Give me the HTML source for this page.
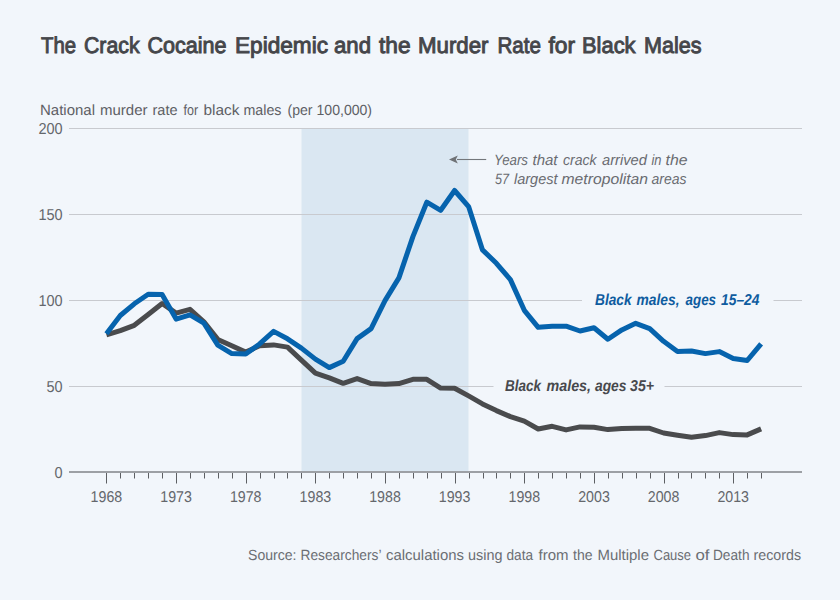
<!DOCTYPE html>
<html><head><meta charset="utf-8"><style>
html,body{margin:0;padding:0;background:#f2f6fb;}
svg{display:block;}
text{font-family:"Liberation Sans",sans-serif;text-rendering:geometricPrecision;}
</style></head><body>
<svg width="840" height="600" viewBox="0 0 840 600">
<rect width="840" height="600" fill="#f2f6fb"/>
<text x="41.00" y="52.7" font-size="22.7" fill="#45464a" stroke="#45464a" stroke-width="0.95" textLength="35.07" lengthAdjust="spacingAndGlyphs">The</text><text x="84.00" y="52.7" font-size="22.7" fill="#45464a" stroke="#45464a" stroke-width="0.95" textLength="55.57" lengthAdjust="spacingAndGlyphs">Crack</text><text x="147.50" y="52.7" font-size="22.7" fill="#45464a" stroke="#45464a" stroke-width="0.95" textLength="79.01" lengthAdjust="spacingAndGlyphs">Cocaine</text><text x="235.00" y="52.7" font-size="22.7" fill="#45464a" stroke="#45464a" stroke-width="0.95" textLength="93.01" lengthAdjust="spacingAndGlyphs">Epidemic</text><text x="334.00" y="52.7" font-size="22.7" fill="#45464a" stroke="#45464a" stroke-width="0.95" textLength="37.02" lengthAdjust="spacingAndGlyphs">and</text><text x="379.00" y="52.7" font-size="22.7" fill="#45464a" stroke="#45464a" stroke-width="0.95" textLength="31.55" lengthAdjust="spacingAndGlyphs">the</text><text x="418.00" y="52.7" font-size="22.7" fill="#45464a" stroke="#45464a" stroke-width="0.95" textLength="70.51" lengthAdjust="spacingAndGlyphs">Murder</text><text x="497.50" y="52.7" font-size="22.7" fill="#45464a" stroke="#45464a" stroke-width="0.95" textLength="43.51" lengthAdjust="spacingAndGlyphs">Rate</text><text x="548.50" y="52.7" font-size="22.7" fill="#45464a" stroke="#45464a" stroke-width="0.95" textLength="26.62" lengthAdjust="spacingAndGlyphs">for</text><text x="582.00" y="52.7" font-size="22.7" fill="#45464a" stroke="#45464a" stroke-width="0.95" textLength="53.54" lengthAdjust="spacingAndGlyphs">Black</text><text x="644.00" y="52.7" font-size="22.7" fill="#45464a" stroke="#45464a" stroke-width="0.95" textLength="57.51" lengthAdjust="spacingAndGlyphs">Males</text>
<text x="40.00" y="114.6" font-size="14.8" fill="#5e6065" textLength="55.01" lengthAdjust="spacingAndGlyphs">National</text><text x="100.00" y="114.6" font-size="14.8" fill="#5e6065" textLength="47.50" lengthAdjust="spacingAndGlyphs">murder</text><text x="152.50" y="114.6" font-size="14.8" fill="#5e6065" textLength="25.00" lengthAdjust="spacingAndGlyphs">rate</text><text x="183.50" y="114.6" font-size="14.8" fill="#5e6065" textLength="14.61" lengthAdjust="spacingAndGlyphs">for</text><text x="203.50" y="114.6" font-size="14.8" fill="#5e6065" textLength="36.02" lengthAdjust="spacingAndGlyphs">black</text><text x="243.50" y="114.6" font-size="14.8" fill="#5e6065" textLength="38.00" lengthAdjust="spacingAndGlyphs">males</text><text x="287.50" y="114.6" font-size="14.8" fill="#5e6065" textLength="25.05" lengthAdjust="spacingAndGlyphs">(per</text><text x="316.50" y="114.6" font-size="14.8" fill="#5e6065" textLength="55.54" lengthAdjust="spacingAndGlyphs">100,000)</text>
<rect x="301.5" y="128" width="167" height="344" fill="#dae7f2"/>
<g stroke="#c8cacf" stroke-width="1">
<line x1="69" y1="128.5" x2="802" y2="128.5"/>
<line x1="69" y1="214.5" x2="802" y2="214.5"/>
<line x1="69" y1="300.5" x2="582" y2="300.5"/>
<line x1="773.5" y1="300.5" x2="802" y2="300.5"/>
<line x1="69" y1="386.5" x2="493.5" y2="386.5"/>
<line x1="664.5" y1="386.5" x2="802" y2="386.5"/>
</g>
<g font-size="15.8" fill="#64676c" text-anchor="end">
<text x="62.6" y="134" textLength="24.2" lengthAdjust="spacingAndGlyphs">200</text>
<text x="62.6" y="220" textLength="24.2" lengthAdjust="spacingAndGlyphs">150</text>
<text x="62.6" y="306" textLength="24.2" lengthAdjust="spacingAndGlyphs">100</text>
<text x="62.6" y="392" textLength="16.1" lengthAdjust="spacingAndGlyphs">50</text>
<text x="62.6" y="478" textLength="8.1" lengthAdjust="spacingAndGlyphs">0</text>
</g>
<g stroke="#5d5f63" stroke-width="1">
<line x1="106.5" y1="472" x2="106.5" y2="483.5"/><line x1="120.5" y1="472" x2="120.5" y2="478.5"/><line x1="134.5" y1="472" x2="134.5" y2="478.5"/><line x1="148.5" y1="472" x2="148.5" y2="478.5"/><line x1="162.5" y1="472" x2="162.5" y2="478.5"/><line x1="176.5" y1="472" x2="176.5" y2="483.5"/><line x1="190.5" y1="472" x2="190.5" y2="478.5"/><line x1="204.5" y1="472" x2="204.5" y2="478.5"/><line x1="218.5" y1="472" x2="218.5" y2="478.5"/><line x1="232.5" y1="472" x2="232.5" y2="478.5"/><line x1="246.5" y1="472" x2="246.5" y2="483.5"/><line x1="260.5" y1="472" x2="260.5" y2="478.5"/><line x1="274.5" y1="472" x2="274.5" y2="478.5"/><line x1="287.5" y1="472" x2="287.5" y2="478.5"/><line x1="301.5" y1="472" x2="301.5" y2="478.5"/><line x1="315.5" y1="472" x2="315.5" y2="483.5"/><line x1="329.5" y1="472" x2="329.5" y2="478.5"/><line x1="343.5" y1="472" x2="343.5" y2="478.5"/><line x1="357.5" y1="472" x2="357.5" y2="478.5"/><line x1="371.5" y1="472" x2="371.5" y2="478.5"/><line x1="385.5" y1="472" x2="385.5" y2="483.5"/><line x1="399.5" y1="472" x2="399.5" y2="478.5"/><line x1="413.5" y1="472" x2="413.5" y2="478.5"/><line x1="427.5" y1="472" x2="427.5" y2="478.5"/><line x1="441.5" y1="472" x2="441.5" y2="478.5"/><line x1="455.5" y1="472" x2="455.5" y2="483.5"/><line x1="469.5" y1="472" x2="469.5" y2="478.5"/><line x1="483.5" y1="472" x2="483.5" y2="478.5"/><line x1="496.5" y1="472" x2="496.5" y2="478.5"/><line x1="510.5" y1="472" x2="510.5" y2="478.5"/><line x1="524.5" y1="472" x2="524.5" y2="483.5"/><line x1="538.5" y1="472" x2="538.5" y2="478.5"/><line x1="552.5" y1="472" x2="552.5" y2="478.5"/><line x1="566.5" y1="472" x2="566.5" y2="478.5"/><line x1="580.5" y1="472" x2="580.5" y2="478.5"/><line x1="594.5" y1="472" x2="594.5" y2="483.5"/><line x1="608.5" y1="472" x2="608.5" y2="478.5"/><line x1="622.5" y1="472" x2="622.5" y2="478.5"/><line x1="636.5" y1="472" x2="636.5" y2="478.5"/><line x1="650.5" y1="472" x2="650.5" y2="478.5"/><line x1="664.5" y1="472" x2="664.5" y2="483.5"/><line x1="678.5" y1="472" x2="678.5" y2="478.5"/><line x1="691.5" y1="472" x2="691.5" y2="478.5"/><line x1="705.5" y1="472" x2="705.5" y2="478.5"/><line x1="719.5" y1="472" x2="719.5" y2="478.5"/><line x1="733.5" y1="472" x2="733.5" y2="483.5"/><line x1="747.5" y1="472" x2="747.5" y2="478.5"/><line x1="761.5" y1="472" x2="761.5" y2="478.5"/>
</g>
<line x1="69" y1="472" x2="802" y2="472" stroke="#9da0a5" stroke-width="2"/>
<g font-size="15.6" fill="#64676c" text-anchor="middle">
<text x="106.4" y="502" textLength="31.6" lengthAdjust="spacingAndGlyphs">1968</text><text x="176.1" y="502" textLength="31.6" lengthAdjust="spacingAndGlyphs">1973</text><text x="245.7" y="502" textLength="31.6" lengthAdjust="spacingAndGlyphs">1978</text><text x="315.4" y="502" textLength="31.6" lengthAdjust="spacingAndGlyphs">1983</text><text x="385.0" y="502" textLength="31.6" lengthAdjust="spacingAndGlyphs">1988</text><text x="454.6" y="502" textLength="31.6" lengthAdjust="spacingAndGlyphs">1993</text><text x="524.3" y="502" textLength="31.6" lengthAdjust="spacingAndGlyphs">1998</text><text x="594.0" y="502" textLength="31.6" lengthAdjust="spacingAndGlyphs">2003</text><text x="663.6" y="502" textLength="31.6" lengthAdjust="spacingAndGlyphs">2008</text><text x="733.2" y="502" textLength="31.6" lengthAdjust="spacingAndGlyphs">2013</text>
</g>
<polyline points="106.4,334.9 120.3,330.6 134.3,325.3 148.2,314.5 162.1,303.5 176.1,313.1 190.0,309.3 203.9,321.9 217.8,339.4 231.8,345.8 245.7,352.1 259.6,345.8 273.6,344.9 287.5,347.1 301.4,360.1 315.4,373.1 329.3,377.9 343.2,383.3 357.1,378.6 371.1,383.6 385.0,384.2 398.9,383.6 412.9,379.3 426.8,379.3 440.7,388.1 454.6,388.2 468.6,395.9 482.5,403.9 496.4,410.6 510.4,416.6 524.3,421.1 538.2,429.0 552.2,426.3 566.1,429.9 580.0,426.9 594.0,427.3 607.9,429.6 621.8,428.4 635.7,428.3 649.7,428.3 663.6,433.0 677.5,435.3 691.5,437.3 705.4,435.6 719.3,432.6 733.2,434.6 747.2,434.9 761.1,428.9" fill="none" stroke="#4a4b4d" stroke-width="5" stroke-linejoin="round"/>
<polyline points="106.4,333.8 120.3,315.5 134.3,303.8 148.2,294.3 162.1,294.4 176.1,319.1 190.0,314.9 203.9,323.1 217.8,345.1 231.8,353.6 245.7,354.1 259.6,343.9 273.6,331.4 287.5,338.8 301.4,348.1 315.4,359.1 329.3,367.6 343.2,361.3 357.1,338.6 371.1,328.6 385.0,300.6 398.9,277.9 412.9,236.6 426.8,202.2 440.7,210.3 454.6,190.5 468.6,206.6 482.5,249.9 496.4,263.3 510.4,279.6 524.3,310.3 538.2,327.3 552.2,326.3 566.1,326.2 580.0,331.0 594.0,327.8 607.9,339.3 621.8,329.9 635.7,323.3 649.7,328.6 663.6,341.3 677.5,351.4 691.5,351.0 705.4,353.6 719.3,351.6 733.2,358.6 747.2,360.5 761.1,343.8" fill="none" stroke="#0663ad" stroke-width="5" stroke-linejoin="round"/>
<line x1="457" y1="159.5" x2="486.2" y2="159.5" stroke="#74777b" stroke-width="1.1"/>
<path d="M449,159.5 L457.8,155.6 L455.8,159.5 L457.8,163.4 Z" fill="#6f7276"/>
<g font-size="15" font-style="italic" fill="#696b70">
<text x="494.00" y="164.6"  textLength="34.03" lengthAdjust="spacingAndGlyphs">Years</text><text x="532.50" y="164.6"  textLength="25.05" lengthAdjust="spacingAndGlyphs">that</text><text x="563.00" y="164.6"  textLength="33.55" lengthAdjust="spacingAndGlyphs">crack</text><text x="602.00" y="164.6"  textLength="45.01" lengthAdjust="spacingAndGlyphs">arrived</text><text x="651.50" y="164.6"  textLength="10.05" lengthAdjust="spacingAndGlyphs">in</text><text x="665.50" y="164.6"  textLength="22.02" lengthAdjust="spacingAndGlyphs">the</text>
<text x="495.00" y="183.7"  textLength="14.04" lengthAdjust="spacingAndGlyphs">57</text><text x="514.00" y="183.7"  textLength="43.54" lengthAdjust="spacingAndGlyphs">largest</text><text x="561.50" y="183.7"  textLength="86.50" lengthAdjust="spacingAndGlyphs">metropolitan</text><text x="651.50" y="183.7"  textLength="35.03" lengthAdjust="spacingAndGlyphs">areas</text>
</g>
<text x="595.00" y="304.8" font-size="15.8" font-weight="bold" font-style="italic" fill="#0f5c9f" textLength="36.53" lengthAdjust="spacingAndGlyphs">Black</text><text x="636.50" y="304.8" font-size="15.8" font-weight="bold" font-style="italic" fill="#0f5c9f" textLength="43.01" lengthAdjust="spacingAndGlyphs">males,</text><text x="685.50" y="304.8" font-size="15.8" font-weight="bold" font-style="italic" fill="#0f5c9f" textLength="30.53" lengthAdjust="spacingAndGlyphs">ages</text><text x="721.00" y="304.8" font-size="15.8" font-weight="bold" font-style="italic" fill="#0f5c9f" textLength="38.52" lengthAdjust="spacingAndGlyphs">15–24</text>
<text x="505.00" y="391.3" font-size="15.8" font-weight="bold" font-style="italic" fill="#48494d" textLength="36.03" lengthAdjust="spacingAndGlyphs">Black</text><text x="546.50" y="391.3" font-size="15.8" font-weight="bold" font-style="italic" fill="#48494d" textLength="44.50" lengthAdjust="spacingAndGlyphs">males,</text><text x="595.00" y="391.3" font-size="15.8" font-weight="bold" font-style="italic" fill="#48494d" textLength="31.50" lengthAdjust="spacingAndGlyphs">ages</text><text x="630.00" y="391.3" font-size="15.8" font-weight="bold" font-style="italic" fill="#48494d" textLength="24.02" lengthAdjust="spacingAndGlyphs">35+</text>
<text x="248.00" y="559.5" font-size="14.8" fill="#6b6e73" textLength="48.52" lengthAdjust="spacingAndGlyphs">Source:</text><text x="300.50" y="559.5" font-size="14.8" fill="#6b6e73" textLength="81.00" lengthAdjust="spacingAndGlyphs">Researchers’</text><text x="386.00" y="559.5" font-size="14.8" fill="#6b6e73" textLength="78.02" lengthAdjust="spacingAndGlyphs">calculations</text><text x="468.00" y="559.5" font-size="14.8" fill="#6b6e73" textLength="34.50" lengthAdjust="spacingAndGlyphs">using</text><text x="506.50" y="559.5" font-size="14.8" fill="#6b6e73" textLength="26.57" lengthAdjust="spacingAndGlyphs">data</text><text x="538.50" y="559.5" font-size="14.8" fill="#6b6e73" textLength="30.02" lengthAdjust="spacingAndGlyphs">from</text><text x="573.00" y="559.5" font-size="14.8" fill="#6b6e73" textLength="19.53" lengthAdjust="spacingAndGlyphs">the</text><text x="597.50" y="559.5" font-size="14.8" fill="#6b6e73" textLength="51.52" lengthAdjust="spacingAndGlyphs">Multiple</text><text x="653.50" y="559.5" font-size="14.8" fill="#6b6e73" textLength="37.55" lengthAdjust="spacingAndGlyphs">Cause</text><text x="695.50" y="559.5" font-size="14.8" fill="#6b6e73" textLength="14.06" lengthAdjust="spacingAndGlyphs">of</text><text x="713.00" y="559.5" font-size="14.8" fill="#6b6e73" textLength="36.50" lengthAdjust="spacingAndGlyphs">Death</text><text x="753.50" y="559.5" font-size="14.8" fill="#6b6e73" textLength="47.51" lengthAdjust="spacingAndGlyphs">records</text>
</svg>
</body></html>
